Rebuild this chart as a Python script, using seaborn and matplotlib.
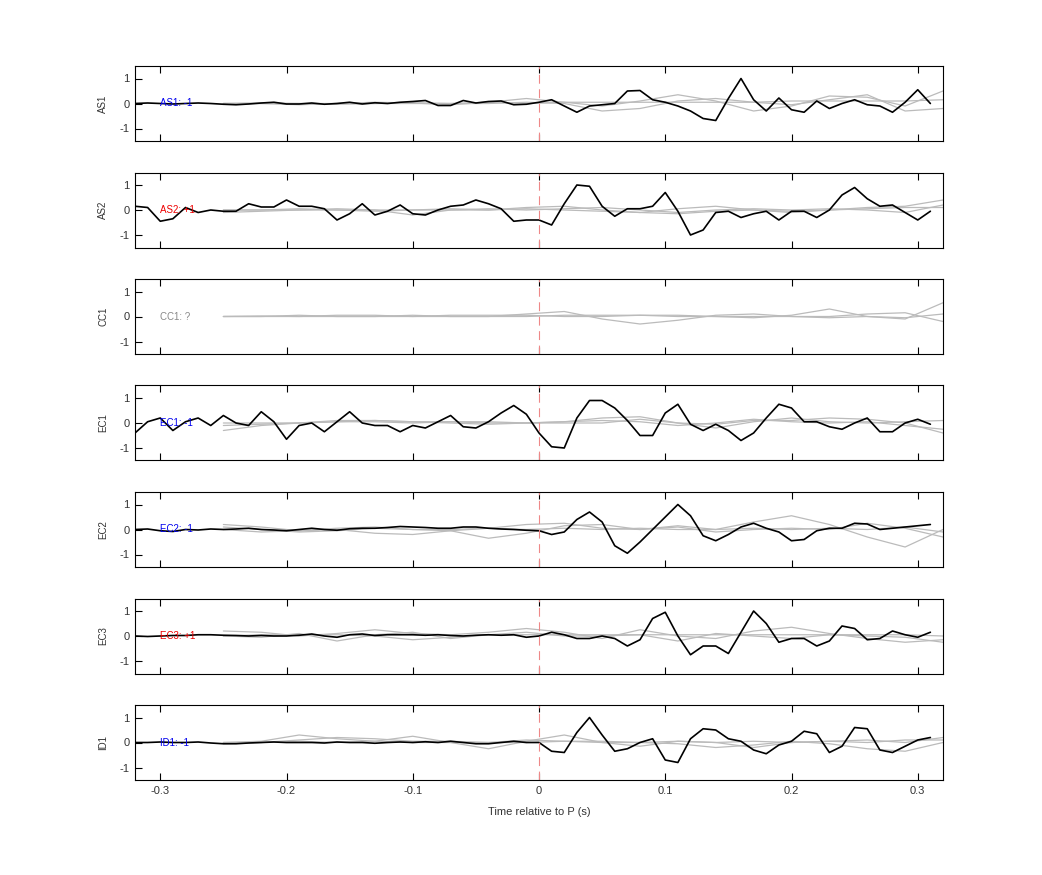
import numpy as np
import pandas as pd
import matplotlib
matplotlib.use("Agg")
import matplotlib.pyplot as plt
import seaborn as sns

# black trace sampled every 10 ms, -0.32 .. 0.31
t_black = np.round(np.arange(-0.32, 0.315, 0.01), 2)
# gray reference curves sampled every 30 ms, -0.25 .. 0.32
t_gray = np.round(np.arange(-0.25, 0.325, 0.03), 2)

names = ['AS1', 'AS2', 'CC1', 'EC1', 'EC2', 'EC3', 'ID1']
tags = ['AS1: -1', 'AS2: +1', 'CC1: ?', 'EC1: -1', 'EC2: -1', 'EC3: +1', 'ID1: -1']
tag_colors = ['#0000ee', '#ee0000', '#888888', '#0000ee', '#0000ee', '#ee0000', '#0000ee']

as1 = [0.0, 0.02, 0.0, -0.02, 0.0, 0.02, 0.0, -0.03, -0.05, -0.02, 0.02, 0.05,
       -0.02, -0.02, 0.02, -0.03, 0.0, 0.05, -0.02, 0.03, 0.0, 0.05, 0.08, 0.12,
       -0.08, -0.08, 0.12, 0.02, 0.08, 0.1, -0.05, -0.03, 0.05, 0.15, -0.1, -0.35,
       -0.1, -0.05, 0.0, 0.5, 0.52, 0.15, 0.05, -0.1, -0.3, -0.6, -0.68, 0.2,
       1.0, 0.15, -0.3, 0.22, -0.25, -0.35, 0.1, -0.2, 0.0, 0.15, -0.05, -0.1,
       -0.35, 0.05, 0.55, 0.0]
as2 = [0.15, 0.1, -0.45, -0.35, 0.1, -0.1, 0.0, -0.05, -0.05, 0.25, 0.12, 0.12,
       0.4, 0.15, 0.15, 0.05, -0.4, -0.15, 0.25, -0.2, -0.05, 0.2, -0.15, -0.2,
       0.0, 0.15, 0.2, 0.4, 0.25, 0.05, -0.45, -0.4, -0.4, -0.6, 0.25, 1.0,
       0.95, 0.15, -0.25, 0.05, 0.05, 0.15, 0.7, -0.05, -1.0, -0.8, -0.1, -0.05,
       -0.3, -0.15, -0.05, -0.4, -0.05, -0.05, -0.3, 0.0, 0.6, 0.9, 0.45, 0.15,
       0.2, -0.1, -0.4, -0.05]
cc1 = None
ec1 = [-0.4, 0.05, 0.2, -0.3, 0.05, 0.2, -0.1, 0.3, 0.0, -0.1, 0.45, 0.05,
       -0.65, -0.1, 0.0, -0.35, 0.05, 0.45, 0.0, -0.1, -0.1, -0.35, -0.1, -0.2,
       0.05, 0.3, -0.15, -0.2, 0.05, 0.4, 0.7, 0.35, -0.4, -0.95, -1.0, 0.2,
       0.9, 0.9, 0.6, 0.1, -0.5, -0.5, 0.4, 0.75, -0.05, -0.3, -0.05, -0.3,
       -0.7, -0.4, 0.2, 0.75, 0.6, 0.05, 0.05, -0.15, -0.25, 0.0, 0.2, -0.35,
       -0.35, 0.0, 0.15, -0.05]
ec2 = [0.0, 0.02, -0.05, -0.08, 0.0, -0.02, 0.02, 0.0, 0.02, 0.05, 0.0, -0.02,
       -0.05, 0.0, 0.05, 0.0, -0.03, 0.03, 0.05, 0.05, 0.08, 0.12, 0.1, 0.08,
       0.05, 0.05, 0.1, 0.1, 0.05, 0.02, 0.0, -0.03, -0.05, -0.2, -0.1, 0.4,
       0.7, 0.3, -0.65, -0.95, -0.5, 0.0, 0.5, 1.0, 0.55, -0.25, -0.45, -0.2,
       0.1, 0.25, 0.05, -0.1, -0.45, -0.4, -0.05, 0.05, 0.05, 0.25, 0.22, 0.0,
       0.05, 0.1, 0.15, 0.2]
ec3 = [0.0, -0.02, 0.0, 0.02, 0.02, 0.05, 0.05, 0.03, 0.02, 0.0, 0.02, 0.0,
       0.0, 0.03, 0.08, 0.0, -0.05, 0.05, 0.08, 0.02, 0.05, 0.05, 0.05, 0.03,
       0.05, 0.02, 0.0, 0.03, 0.05, 0.03, 0.05, -0.05, 0.0, 0.15, 0.05, -0.1,
       -0.1, 0.0, -0.1, -0.4, -0.15, 0.7, 0.95, 0.0, -0.75, -0.4, -0.4, -0.7,
       0.15, 1.0, 0.5, -0.25, -0.1, -0.1, -0.4, -0.2, 0.4, 0.3, -0.15, -0.1,
       0.2, 0.05, -0.05, 0.15]
id1 = [0.0, 0.0, 0.02, 0.0, 0.0, 0.02, -0.02, -0.05, -0.05, -0.02, 0.0, 0.02,
       0.0, 0.0, 0.0, -0.02, 0.02, 0.0, 0.0, -0.03, 0.0, 0.02, 0.0, 0.03,
       0.0, 0.05, 0.0, -0.05, -0.05, 0.0, 0.05, 0.0, 0.0, -0.35, -0.4, 0.4,
       1.0, 0.3, -0.35, -0.25, 0.0, 0.15, -0.7, -0.8, 0.15, 0.55, 0.5, 0.15,
       0.05, -0.3, -0.45, -0.1, 0.05, 0.45, 0.35, -0.4, -0.15, 0.6, 0.55, -0.3,
       -0.4, -0.15, 0.1, 0.2]
black = [as1, as2, cc1, ec1, ec2, ec3, id1]

# gray curves per panel (3 each)
gray = [
    [[0.0, 0.0, -0.05, 0.0, 0.05, 0.02, -0.05, 0.05, 0.2, 0.05, -0.1, 0.1, 0.35, 0.1, -0.3, -0.1, 0.3, 0.25, -0.1, 0.5],
     [0.0, 0.02, 0.0, -0.03, 0.0, 0.03, 0.0, 0.0, 0.05, 0.0, -0.3, -0.2, 0.1, 0.2, 0.05, -0.05, 0.15, 0.35, -0.3, -0.2],
     [0.0, 0.0, 0.0, 0.0, 0.0, 0.0, 0.0, 0.05, 0.0, 0.05, 0.05, 0.05, 0.05, 0.05, 0.05, 0.1, 0.1, 0.1, 0.1, 0.15]],
    [[0.0, 0.0, 0.05, 0.0, -0.05, 0.0, 0.05, 0.0, 0.1, 0.15, 0.0, -0.1, 0.05, 0.15, 0.0, -0.1, 0.0, 0.1, 0.15, 0.4],
     [-0.1, -0.05, 0.0, 0.05, 0.0, -0.2, 0.0, 0.05, 0.0, 0.05, 0.1, 0.0, -0.1, 0.0, 0.05, 0.0, 0.05, 0.0, -0.1, 0.2],
     [0.0, 0.0, 0.0, 0.0, 0.0, 0.0, 0.0, 0.0, 0.05, 0.0, -0.05, -0.1, -0.15, -0.05, 0.0, -0.05, 0.0, 0.05, 0.1, 0.1]],
    [[0.0, 0.0, 0.05, 0.0, 0.0, 0.05, 0.0, 0.0, 0.1, 0.2, -0.1, -0.3, -0.15, 0.05, 0.1, 0.0, 0.0, 0.1, 0.15, -0.2],
     [0.0, 0.02, 0.0, 0.05, 0.05, 0.0, 0.05, 0.05, 0.05, 0.0, 0.0, 0.05, 0.05, 0.0, 0.0, 0.0, -0.05, 0.0, -0.1, 0.55],
     [0.0, 0.0, 0.0, 0.0, 0.0, 0.0, 0.0, 0.0, 0.0, 0.05, 0.05, 0.05, 0.0, 0.0, -0.05, 0.05, 0.3, 0.0, -0.05, 0.1]],
    [[-0.3, -0.1, 0.0, 0.1, 0.1, 0.05, 0.05, 0.0, 0.0, 0.05, 0.2, 0.25, 0.0, -0.05, 0.1, 0.1, 0.2, 0.15, 0.0, -0.4],
     [0.0, 0.0, 0.0, 0.05, 0.05, 0.0, 0.05, 0.05, 0.0, 0.05, 0.1, 0.05, -0.1, 0.0, 0.15, 0.05, 0.0, 0.05, -0.1, -0.25],
     [-0.1, -0.05, 0.0, 0.05, 0.1, 0.05, 0.0, -0.05, 0.0, 0.0, 0.0, 0.15, 0.0, -0.2, 0.05, 0.2, 0.05, 0.0, 0.05, 0.1]],
    [[0.2, 0.1, -0.05, 0.05, 0.1, 0.0, -0.05, 0.05, 0.2, 0.25, 0.05, 0.0, 0.15, 0.0, 0.3, 0.55, 0.2, -0.3, -0.7, 0.0],
     [0.0, -0.1, -0.05, 0.0, -0.15, -0.2, -0.05, -0.35, -0.15, 0.15, 0.2, 0.0, 0.1, -0.1, 0.0, 0.05, 0.0, 0.25, 0.05, -0.3],
     [0.1, 0.0, -0.1, -0.05, 0.05, 0.0, 0.0, 0.05, 0.0, 0.05, 0.0, 0.05, 0.0, 0.0, 0.05, 0.0, 0.05, 0.0, 0.1, -0.1]],
    [[0.2, 0.15, 0.0, 0.1, 0.25, 0.1, 0.05, 0.15, 0.3, 0.15, -0.1, 0.25, 0.0, -0.1, 0.2, 0.35, 0.1, -0.1, -0.25, -0.15],
     [0.0, -0.05, 0.1, -0.2, 0.05, 0.15, -0.1, 0.05, 0.15, 0.0, 0.0, 0.05, -0.2, 0.1, 0.0, -0.1, 0.05, 0.0, -0.05, -0.25],
     [0.0, 0.05, 0.05, 0.05, 0.0, -0.15, -0.05, 0.05, 0.05, 0.05, 0.05, 0.05, 0.05, 0.05, 0.05, 0.05, 0.05, 0.05, 0.05, 0.0]],
    [[0.0, 0.05, 0.3, 0.15, 0.05, 0.25, 0.0, -0.25, 0.05, 0.3, 0.0, -0.15, 0.05, 0.0, -0.2, 0.0, 0.05, 0.1, 0.0, 0.2],
     [-0.05, 0.0, 0.1, 0.2, 0.15, 0.05, 0.05, 0.0, 0.1, 0.05, 0.0, 0.0, -0.05, -0.2, -0.1, 0.05, -0.05, -0.25, -0.35, 0.0],
     [0.0, 0.0, 0.05, 0.0, 0.05, 0.0, 0.0, 0.0, 0.0, 0.05, 0.05, 0.0, 0.05, 0.0, 0.05, 0.0, 0.05, 0.0, 0.1, 0.1]],
]

sns.set_theme(style="white")
plt.rcParams['font.family'] = ['Liberation Sans', 'DejaVu Sans']
plt.rcParams['axes.unicode_minus'] = False

fig = plt.figure(figsize=(10.42, 8.75), dpi=100)
left, width = 135 / 1042, 808 / 1042
h = 75 / 875
for i, name in enumerate(names):
    top = 66 + i * 106.5
    ax = fig.add_axes([left, 1 - (top + 75) / 875, width, h])
    for g in gray[i]:
        sns.lineplot(x=t_gray, y=g, ax=ax, color='#bbbbbb', lw=0.9, estimator=None, sort=False)
    if black[i] is not None:
        sns.lineplot(x=t_black, y=black[i], ax=ax, color='black', lw=1.2, estimator=None, sort=False)
    ax.axvline(0, color='#ee8888', lw=0.8, ls=(0, (8, 5)))
    ax.text(-0.3, 0, tags[i], color=tag_colors[i], fontsize=7, va='center', ha='left')
    ax.set_xlim(-0.32, 0.32)
    ax.set_ylim(-1.5, 1.5)
    ax.set_yticks([-1, 0, 1])
    ax.set_xticks([-0.3, -0.2, -0.1, 0, 0.1, 0.2, 0.3])
    ax.tick_params(direction='in', top=True, bottom=True, left=True, right=False,
                   length=5, width=0.8, labelsize=8, colors='black', labelcolor='#333333', pad=4)
    ax.set_ylabel(name, fontsize=7, labelpad=8, color='#333333')
    for s in ax.spines.values():
        s.set_color('black')
        s.set_linewidth(0.8)
    if i < len(names) - 1:
        ax.set_xticklabels([])
    else:
        ax.set_xticklabels(['-0.3', '-0.2', '-0.1', '0', '0.1', '0.2', '0.3'])
        ax.set_xlabel('Time relative to P (s)', fontsize=8, labelpad=8, color='#333333')

fig.savefig('out.png', dpi=100)
